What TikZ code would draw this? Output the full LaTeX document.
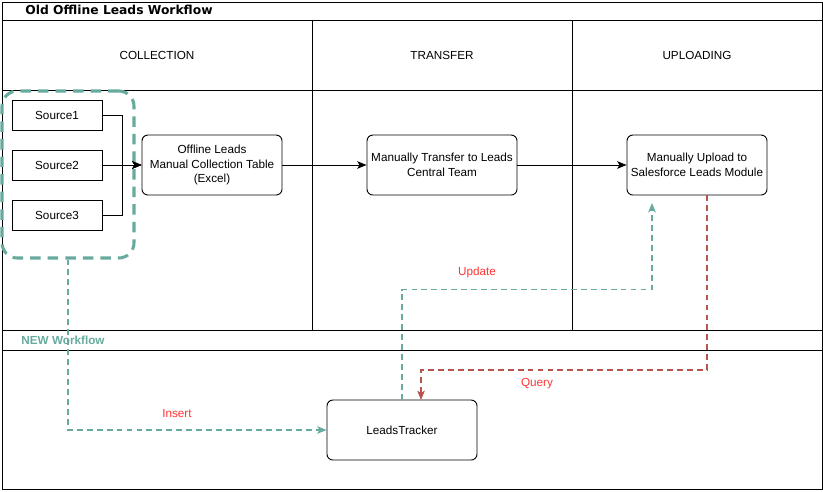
\documentclass[tikz,border=0pt]{standalone}
\usepackage{fontspec}
\setmainfont{Liberation Sans}
\newfontfamily\titlefont{DejaVu Sans}
\usetikzlibrary{arrows.meta,positioning}
\definecolor{lanegreen}{HTML}{67AB9F}
\definecolor{labelred}{HTML}{FF3333}
\definecolor{queryred}{HTML}{B85450}
\newcommand{\fsmall}{\fontsize{10}{12.75}\selectfont}

\begin{document}
\begin{tikzpicture}[
    x=0.03cm, y=-0.03cm,
    line width=0.8pt,
    box/.style={
      draw,
      rounded corners=5pt,
      minimum width=4.2cm,
      minimum height=1.8cm,
      align=center,
      font=\fsmall
    },
    src/.style={
      draw,
      minimum width=2.7cm,
      minimum height=0.9cm,
      font=\fsmall
    },
    lane/.style={font=\fsmall},
    grp/.style={
      draw=lanegreen,
      line width=2.6pt,
      dash pattern=on 9pt off 6pt,
      rounded corners=13pt,
      minimum width=3.96cm,
      minimum height=5.01cm,
      inner sep=0pt
    },
    newflow/.style={draw=lanegreen, line width=1.2pt, dash pattern=on 5pt off 3.5pt},
    queryflow/.style={draw=queryred, line width=1.2pt, dash pattern=on 5pt off 3.5pt},
    tag/.style={font=\fsmall, text=labelred},
    >={Stealth[length=8pt,width=6.5pt,inset=2pt]}
  ]
    \useasboundingbox (0,0) rectangle (823,491);

    \draw (2,2) rectangle (822,489);
    \draw (2,20) -- (822,20);
    \draw (2,90) -- (822,90);
    \draw (2,330) -- (822,330);
    \draw (2,350) -- (822,350);
    \draw (312,20) -- (312,330);
    \draw (572,20) -- (572,330);

    \node[font=\titlefont\fontsize{10.5}{12}\selectfont\bfseries, anchor=west, inner sep=0pt] (title) at (25,10) {Old Offline Leads Workflow};
    \node[lane] (hcoll) at (157,55) {COLLECTION};
    \node[lane] (htrans) at (442,55) {TRANSFER};
    \node[lane] (hup) at (697,55) {UPLOADING};
    \node[font=\fsmall\bfseries, text=lanegreen, anchor=west, inner sep=0pt] (hnew) at (21,340) {NEW Workflow};

    \node[grp] (grp) at (68,174.5) {};

    \node[src] (s1) at (57,115) {Source1};
    \node[src] (s2) at (57,165) {Source2};
    \node[src] (s3) at (57,215) {Source3};

    \node[box] (coll) at (212,165) {Offline Leads\\Manual Collection Table\\(Excel)};
    \node[box, minimum width=4.5cm] (trans) at (442,165) {Manually Transfer to Leads\\Central Team};
    \node[box] (upload) at (697,165) {Manually Upload to\\Salesforce Leads Module};
    \node[box, minimum width=4.5cm] (tracker) at (402,430) {LeadsTracker};

    \coordinate (updend) at (652,203);
    \coordinate (qstart) at (707,195);
    \coordinate (qend) at (421,400);

    \draw[->] (s1.east) -- ++(20,0) |- (coll.west);
    \draw[->] (s3.east) -- ++(20,0) |- (coll.west);
    \draw[->] (s2.east) -- (coll.west);
    \draw[->] (coll.east) -- (trans.west);
    \draw[->] (trans.east) -- (upload.west);

    \draw[newflow, ->] (grp.south) |- (tracker.west);
    \draw[newflow, ->] (tracker.north) -- ++(0,-110) -| (updend);
    \draw[queryflow, ->] (qstart) -- ++(0,175) -| (qend);

    \node[tag] (tinsert) at (177,414) {Insert};
    \node[tag] (tupdate) at (477,272) {Update};
    \node[tag] (tquery) at (537,384) {Query};
  \end{tikzpicture}
\end{document}
